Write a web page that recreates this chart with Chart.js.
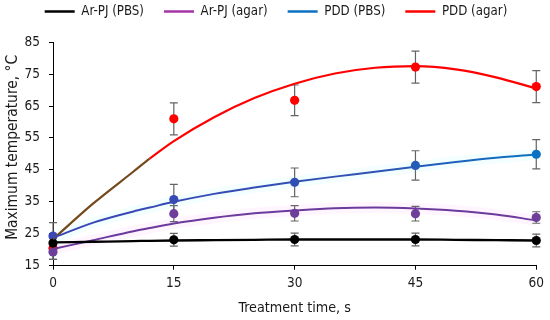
<!DOCTYPE html>
<html><head><meta charset="utf-8">
<script src="https://cdn.jsdelivr.net/npm/chart.js@4.4.1/dist/chart.umd.min.js"></script>
<style>html,body{margin:0;padding:0;background:#fff;}#wrap{width:550px;height:320px;position:relative;}</style>
</head><body><div id="wrap"><canvas id="c"></canvas></div>
<script>
// ---- data ----
const times = [0, 15, 30, 45, 60];
const arPjPbs = [22.1, 23.1, 23.2, 23.2, 22.9];
const arPjPbsErr = [1.5, 2.0, 2.0, 2.0, 2.0];
const arPjAgar = [19.3, 31.3, 31.4, 31.3, 30.1];
const arPjAgarErr = [2.3, 2.5, 2.4, 2.3, 1.8];
const pddPbs = [24.3, 35.7, 41.1, 46.4, 49.9];
const pddPbsErr = [4.2, 4.8, 4.5, 4.6, 4.6];
const pddAgar = [20.5, 61.0, 66.8, 77.2, 71.1];
const pddAgarErr = [3.5, 5.0, 4.8, 5.0, 5.0];

// trend curves
const fitTimes = [0, 5, 10, 12, 15, 20, 25, 30, 35, 40, 45, 50, 55, 60];
const arPjPbsFit = [22.3, 22.5, 22.7, 22.8, 22.9, 23.0, 23.1, 23.2, 23.2, 23.2, 23.2, 23.1, 23.0, 22.9];
const arPjAgarFit = [20.2, 23.0, 25.8, 26.8, 28.2, 30.0, 31.4, 32.3, 33.0, 33.2, 32.9, 32.2, 31.0, 29.2];
const pddPbsFit = [23.7, 28.5, 32.0, 33.2, 35.0, 37.5, 39.5, 41.3, 42.9, 44.4, 46.0, 47.5, 48.8, 49.8];
const pddAgarFit = [23.3, 34.5, 44.5, 48.5, 54.0, 61.5, 67.5, 72.0, 75.2, 77.0, 77.5, 76.5, 74.0, 70.5];

const xTicks = [0, 15, 30, 45, 60];
const yTicks = [15, 25, 35, 45, 55, 65, 75, 85];
const seriesLabels = ['Ar-PJ (PBS)', 'Ar-PJ (agar)', 'PDD (PBS)', 'PDD (agar)'];

// ---- styles ----
const legendColors = ['#000000', '#A535A5', '#0C70C0', '#FF0000'];
const NARROW = "'DejaVu Sans Condensed','Liberation Sans Narrow',sans-serif";
const pts = (xs, ys) => xs.map((x, i) => ({x: x, y: ys[i]}));

function blueGrad(ctx) {
  const ch = ctx.chart, a = ch.chartArea;
  if (!a) return '#3050b0';
  const g = ch.ctx.createLinearGradient(a.left, 0, a.right, 0);
  g.addColorStop(0, '#3a46b6'); g.addColorStop(0.65, '#2f52b3'); g.addColorStop(1, '#0a72c2');
  return g;
}

const errSeries = [
  {v: arPjPbs, e: arPjPbsErr}, {v: arPjAgar, e: arPjAgarErr},
  {v: pddPbs, e: pddPbsErr}, {v: pddAgar, e: pddAgarErr}
];
const errPlugin = {
  id: 'errbars',
  beforeDatasetsDraw(chart) {
    const {ctx, scales: {x, y}} = chart;
    ctx.save();
    ctx.strokeStyle = '#646464'; ctx.lineWidth = 1.2;
    errSeries.forEach(s => s.v.forEach((v, i) => {
      const px = x.getPixelForValue(times[i]);
      const t = y.getPixelForValue(v + s.e[i]);
      const b = y.getPixelForValue(v - s.e[i]);
      ctx.beginPath();
      ctx.moveTo(px, t); ctx.lineTo(px, b);
      ctx.moveTo(px - 4, t); ctx.lineTo(px + 4, t);
      ctx.moveTo(px - 4, b); ctx.lineTo(px + 4, b);
      ctx.stroke();
    }));
    ctx.restore();
  }
};
const legendFit = {
  id: 'legendFit',
  beforeInit(chart) {
    const l = chart.legend;
    if (!l) return;
    const orig = l.fit.bind(l);
    l.fit = function () { orig(); this.height += 14; };
    const od = l.draw.bind(l);
    l.draw = function () { const L = this.left; this.left = L + 12; od(); this.left = L; };
  }
};

function curve(label, xs, ys, color, w, extra) {
  return Object.assign({type: 'line', label: label, data: pts(xs, ys), borderColor: color,
    borderWidth: w, pointRadius: 0, fill: false, cubicInterpolationMode: 'monotone', clip: false}, extra || {});
}
function glow(xs, ys, color, w) {
  return {type: 'line', label: '', data: pts(xs, ys), borderColor: color, borderWidth: w,
    pointRadius: 0, fill: false, cubicInterpolationMode: 'monotone', clip: false, order: 10};
}
function markers(ys, color) {
  return {type: 'scatter', label: '', data: pts(times, ys), backgroundColor: color, borderWidth: 0,
    pointRadius: 4.6, pointHoverRadius: 4.6, showLine: false, clip: false};
}

new Chart(document.getElementById('c'), {
  data: {
    datasets: [
      curve(seriesLabels[0], fitTimes, arPjPbsFit, '#000000', 2.3),
      curve(seriesLabels[1], fitTimes, arPjAgarFit, '#6c3a9c', 2),
      curve(seriesLabels[2], fitTimes, pddPbsFit, blueGrad, 2),
      curve(seriesLabels[3], fitTimes, pddAgarFit, '#FF0000', 2.2,
        {segment: {borderColor: c => (c.p1.parsed.x <= 12 ? '#74491c' : '#FF0000')}}),
      markers(arPjPbs, '#000000'),
      markers(arPjAgar, '#6d3f9b'),
      markers(pddPbs, blueGrad),
      markers(pddAgar, '#FF0000'),
      glow(fitTimes, arPjAgarFit, 'rgba(255,120,255,0.07)', 11),
      glow(fitTimes, pddPbsFit, 'rgba(120,240,255,0.09)', 11)
    ]
  },
  options: {
    responsive: true, maintainAspectRatio: false, animation: false,
    layout: {padding: {top: -15, left: 0, right: 10, bottom: 0}},
    plugins: {
      tooltip: {enabled: false},
      legend: {
        position: 'top',
        labels: {
          font: {family: NARROW, size: 13.2}, color: '#1a1a1a', boxWidth: 30, boxHeight: 2.5, padding: 20,
          generateLabels: () => seriesLabels.map((t, i) => ({text: t, fillStyle: legendColors[i],
            strokeStyle: legendColors[i], lineWidth: 0, hidden: false, datasetIndex: i, fontColor: '#1a1a1a'}))
        }
      }
    },
    scales: {
      x: {
        type: 'linear', min: 0, max: 60,
        afterFit: s => { s.height = 54.3; },
        afterBuildTicks: s => { s.ticks = xTicks.map(v => ({value: v})); },
        ticks: {font: {family: NARROW, size: 13.5}, color: '#1a1a1a', padding: 6},
        grid: {drawOnChartArea: false, drawTicks: true, tickLength: 4, color: '#000'},
        border: {display: true, color: '#000', width: 1},
        title: {display: true, text: 'Treatment time, s', font: {family: NARROW, size: 14.2}, color: '#1a1a1a', padding: {top: 0, bottom: 3}}
      },
      y: {
        type: 'linear', min: 15, max: 85,
        afterFit: s => { s.width = 53; },
        afterBuildTicks: s => { s.ticks = yTicks.map(v => ({value: v})); },
        ticks: {font: {family: NARROW, size: 13.5}, color: '#1a1a1a', padding: 9},
        grid: {drawOnChartArea: false, drawTicks: true, tickLength: 4, color: '#000'},
        border: {display: true, color: '#000', width: 1},
        title: {display: true, text: '   Maximum temperature, °C', font: {family: NARROW, size: 15.4}, color: '#1a1a1a', padding: {top: 4, bottom: 0}}
      }
    }
  },
  plugins: [errPlugin, legendFit]
});
</script></body></html>
